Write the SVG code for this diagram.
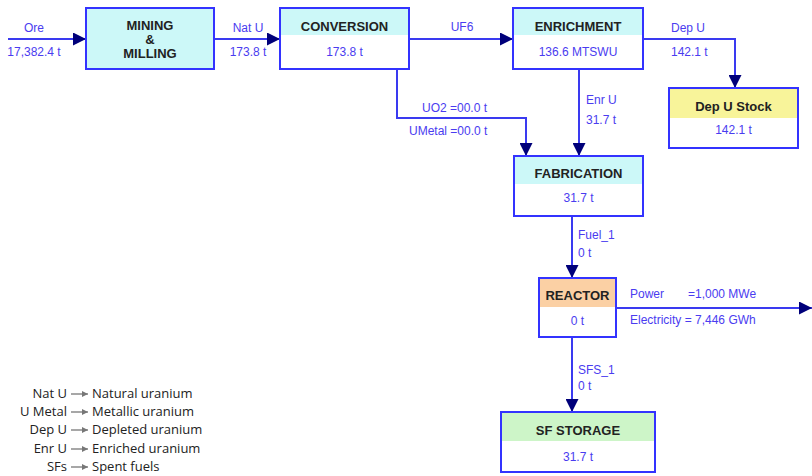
<svg xmlns="http://www.w3.org/2000/svg" width="812" height="476" viewBox="0 0 812 476">
<style>
.box{fill:#ffffff;stroke:#3333ff;stroke-width:2}
.title{font-family:"Liberation Sans",Arial,sans-serif;font-weight:bold;font-size:13px;fill:#222222;text-anchor:middle}
.val{font-family:"Liberation Sans",Arial,sans-serif;font-size:12px;fill:#4a3cf0;text-anchor:middle}
.lbl{font-family:"Liberation Sans",Arial,sans-serif;font-size:12px;fill:#4a3cf0}
.conn{fill:none;stroke:#3a3af0;stroke-width:2}
.leg{font-family:"Open Sans","Noto Sans",sans-serif;font-size:13px;fill:#222222}
.legarr{stroke:#777777;stroke-width:1.3;fill:none}
</style>
<defs>
<marker id="ah" viewBox="0 0 13 13" refX="13" refY="6.5" markerWidth="13" markerHeight="13" markerUnits="userSpaceOnUse" orient="auto">
<path d="M0,0 L13,6.5 L0,13 Z" fill="#00007a"/>
</marker>
<marker id="la" viewBox="0 0 6 6" refX="6" refY="3" markerWidth="6" markerHeight="6" markerUnits="userSpaceOnUse" orient="auto">
<path d="M0,0 L6,3 L0,6 Z" fill="#777777"/>
</marker>
</defs>
<rect width="812" height="476" fill="#ffffff"/>

<g id="connectors">
<path class="conn" d="M8,39 H86" marker-end="url(#ah)"/>
<path class="conn" d="M214,39 H280" marker-end="url(#ah)"/>
<path class="conn" d="M409,39 H513" marker-end="url(#ah)"/>
<path class="conn" d="M643,39 H735 V88" marker-end="url(#ah)"/>
<path class="conn" d="M579,69 V156" marker-end="url(#ah)"/>
<path class="conn" d="M397,69 V118 H526 V156" marker-end="url(#ah)"/>
<path class="conn" d="M572,216 V278" marker-end="url(#ah)"/>
<path class="conn" d="M616,308 H812" marker-end="url(#ah)"/>
<path class="conn" d="M572,337 V412" marker-end="url(#ah)"/>
<text class="val" x="34" y="32">Ore</text>
<text class="val" x="34" y="56">17,382.4 t</text>
<text class="val" x="248" y="32">Nat U</text>
<text class="val" x="248" y="56">173.8 t</text>
<text class="val" x="462" y="31">UF6</text>
<text class="lbl" x="671" y="32">Dep U</text>
<text class="lbl" x="671" y="56">142.1 t</text>
<text class="lbl" x="586" y="104">Enr U</text>
<text class="lbl" x="586" y="124">31.7 t</text>
<text class="lbl" x="422" y="112">UO2 =00.0 t</text>
<text class="lbl" x="409" y="135">UMetal =00.0 t</text>
<text class="lbl" x="578" y="239">Fuel_1</text>
<text class="lbl" x="578" y="257">0 t</text>
<text class="lbl" x="630" y="298">Power</text>
<text class="lbl" x="688" y="298">=1,000 MWe</text>
<text class="lbl" x="630" y="324">Electricity = 7,446 GWh</text>
<text class="lbl" x="578" y="374">SFS_1</text>
<text class="lbl" x="578" y="390">0 t</text>
</g>

<g id="mining">
<rect x="86" y="8" width="128" height="61" fill="#ccf8f8" stroke="#3333ff" stroke-width="2"/>
<text class="title" x="150" y="30" font-size="12">MINING</text>
<text class="title" x="150" y="44" font-size="12">&amp;</text>
<text class="title" x="150" y="58" font-size="12">MILLING</text>
</g>

<g id="conversion">
<rect class="box" x="280" y="8" width="129" height="61"/>
<rect x="281" y="9" width="127" height="26" fill="#ccf8f8"/>
<text class="title" x="344.5" y="31">CONVERSION</text>
<text class="val" x="344.5" y="56">173.8 t</text>
</g>

<g id="enrichment">
<rect class="box" x="513" y="8" width="130" height="61"/>
<rect x="514" y="9" width="128" height="26" fill="#ccf8f8"/>
<text class="title" x="578" y="31">ENRICHMENT</text>
<text class="val" x="578" y="56">136.6 MTSWU</text>
</g>

<g id="depustock">
<rect class="box" x="669" y="88" width="129" height="60"/>
<rect x="670" y="89" width="127" height="29" fill="#f8f49a"/>
<text class="title" x="733.5" y="111">Dep U Stock</text>
<text class="val" x="733.5" y="134">142.1 t</text>
</g>

<g id="fabrication">
<rect class="box" x="514" y="156" width="129" height="60"/>
<rect x="515" y="157" width="127" height="27" fill="#ccf8f8"/>
<text class="title" x="578.5" y="178">FABRICATION</text>
<text class="val" x="578.5" y="202">31.7 t</text>
</g>

<g id="reactor">
<rect class="box" x="539" y="278" width="77" height="59"/>
<rect x="540" y="279" width="75" height="28" fill="#fbd0a4"/>
<text class="title" x="577.5" y="300">REACTOR</text>
<text class="val" x="577.5" y="325">0 t</text>
</g>

<g id="sfstorage">
<rect class="box" x="501" y="412" width="154" height="60"/>
<rect x="502" y="413" width="152" height="28" fill="#cdf5c8"/>
<text class="title" x="578" y="435">SF STORAGE</text>
<text class="val" x="578" y="461">31.7 t</text>
</g>

<g id="legend">
<text class="leg" x="67" y="398" text-anchor="end">Nat U</text>
<text class="leg" x="67" y="416" text-anchor="end">U Metal</text>
<text class="leg" x="67" y="434" text-anchor="end">Dep U</text>
<text class="leg" x="67" y="453" text-anchor="end">Enr U</text>
<text class="leg" x="67" y="471" text-anchor="end">SFs</text>
<path class="legarr" d="M71,394 H88" marker-end="url(#la)"/>
<path class="legarr" d="M71,412 H88" marker-end="url(#la)"/>
<path class="legarr" d="M71,430 H88" marker-end="url(#la)"/>
<path class="legarr" d="M71,449 H88" marker-end="url(#la)"/>
<path class="legarr" d="M71,467 H88" marker-end="url(#la)"/>
<text class="leg" x="92" y="398">Natural uranium</text>
<text class="leg" x="92" y="416">Metallic uranium</text>
<text class="leg" x="92" y="434">Depleted uranium</text>
<text class="leg" x="92" y="453">Enriched uranium</text>
<text class="leg" x="92" y="471">Spent fuels</text>
</g>
</svg>
